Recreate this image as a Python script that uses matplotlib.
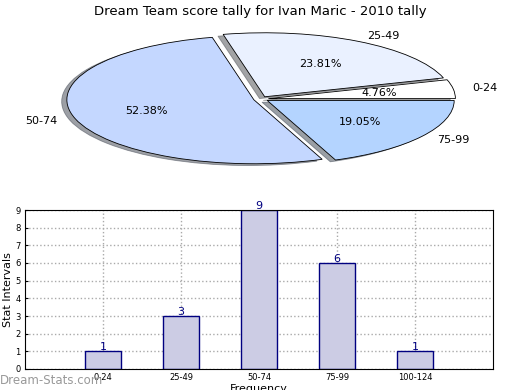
import matplotlib
matplotlib.use('Agg')
import matplotlib.pyplot as plt

# pie data
pie_labels = ['0-24', '25-49', '50-74', '75-99']
pie_values = [1, 5, 11, 4]
pie_colors = ['#ffffff', '#eaf1ff', '#c4d7ff', '#b4d4ff']

# bar data
bar_labels = ['0-24', '25-49', '50-74', '75-99', '100-124']
bar_values = [1, 3, 9, 6, 1]

fig = plt.figure(figsize=(5.2, 3.9), dpi=100)

# --- pie, stretched into an ellipse
rx, ry = 187.0, 64.0
cx, cy = 261.0, 99.0
ax_top, ax_bot = 22.0, 185.0
ax1 = fig.add_axes([0, 1 - ax_bot / 390, 1, (ax_bot - ax_top) / 390])
wedges, texts, autotexts = ax1.pie(pie_values, labels=pie_labels, colors=pie_colors,
                                   explode=[0.04] * 4, autopct='%1.2f%%', shadow=True,
                                   startangle=0, wedgeprops=dict(edgecolor='black', linewidth=0.6),
                                   textprops=dict(fontsize=8))
ax1.set_aspect('auto')
ax1.set_xlim(-cx / rx, (520 - cx) / rx)
ax1.set_ylim(-(ax_bot - cy) / ry, (cy - ax_top) / ry)
ax1.set_title('Dream Team score tally for Ivan Maric - 2010 tally', fontsize=9.5, pad=5)

# --- bars
ax2 = fig.add_axes([25 / 520, 21 / 390, 468 / 520, 159 / 390])
pos = list(range(len(bar_values)))
ax2.bar(pos, bar_values, width=0.46, color='#ccccE4', edgecolor='#000080', linewidth=1, zorder=2)
for p, v in zip(pos, bar_values):
    ax2.text(p, v - 0.05, str(v), ha='center', va='bottom', color='#000080', fontsize=8, zorder=3)
ax2.set_xlim(-1, 5)
ax2.set_ylim(0, 9)
ax2.set_xticks(pos)
ax2.set_xticklabels(bar_labels)
ax2.set_yticks(range(10))
ax2.tick_params(labelsize=6, length=2, direction='in', pad=3)
ax2.grid(True, linestyle=':', color='#aaaaaa', linewidth=1, zorder=0)
ax2.set_axisbelow(True)
ax2.set_xlabel('Frequency', fontsize=8, labelpad=1)
ax2.set_ylabel('Stat Intervals', fontsize=8, labelpad=2)

fig.text(0.0, 10 / 390, 'Dream-Stats.com', color='#999999', fontsize=8.5,
         ha='left', va='center', zorder=10)

fig.savefig('out.png', dpi=100)
